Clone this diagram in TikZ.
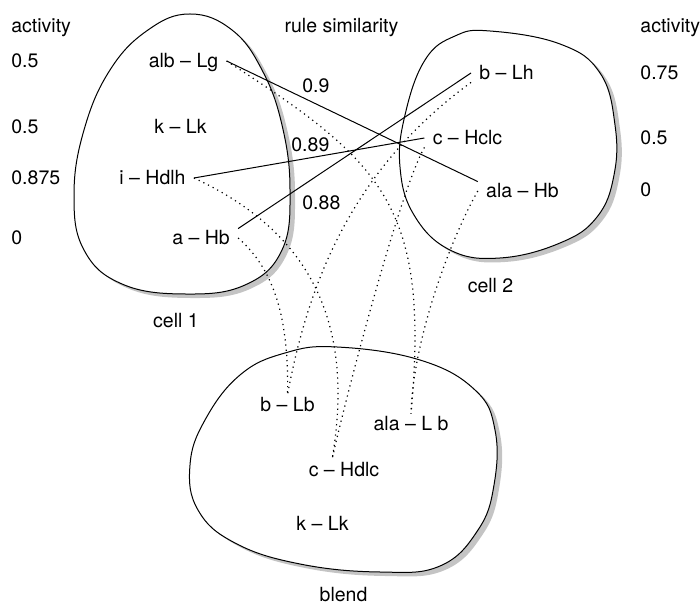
\documentclass[tikz,border=0pt]{standalone}
\usepackage{fontspec}
\setmainfont{TeX Gyre Heros}
\usepackage{xcolor}
\definecolor{diagramink}{HTML}{000000}
\definecolor{diagramshadow}{HTML}{C4C4C4}
\newcommand{\cellone}[1]{%
  \path[#1] plot[smooth cycle, tension=0.7] coordinates {(190,14) (232,30) (262,70) (282,125) (290,190) (282,250) (245,285) (185,294) (122,284) (84,250) (74,195) (84,130) (110,70) (148,30)};
}
\newcommand{\celltwo}[1]{%
  \path[#1] plot[smooth cycle, tension=0.7] coordinates {(490,31) (560,44) (600,73) (615,125) (614,175) (597,217) (560,243) (500,258) (450,250) (414,215) (400,167) (405,115) (425,60) (455,36)};
}
\newcommand{\blendcell}[1]{%
  \path[#1] plot[smooth cycle, tension=0.7] coordinates {(337,347) (420,360) (475,390) (495,430) (494,485) (478,530) (440,566) (380,572) (300,564) (235,543) (198,510) (190,465) (205,420) (240,375) (285,353)};
}

\begin{document}
\begin{tikzpicture}[
  x=0.5pt,
  y=-0.5pt,
  every node/.style={font=\fontsize{9.75}{12}\selectfont, text=diagramink},
  headtext/.style={inner sep=0pt, anchor=base west},
  ruleitem/.style={inner xsep=4pt, inner ysep=1pt, text height=7pt, text depth=0pt, anchor=base},
  simlink/.style={diagramink, line width=0.5pt},
  blendlink/.style={diagramink, line width=0.6pt, dash pattern=on 0.6pt off 2pt}
]
  \useasboundingbox (0,0) rectangle (700,608);

  % the three spaces, shadow first
  \cellone{fill=diagramshadow, shift={(5,4)}}
  \cellone{fill=white, draw=diagramink, line width=0.5pt}
  \celltwo{fill=diagramshadow, shift={(5,4)}}
  \celltwo{fill=white, draw=diagramink, line width=0.5pt}
  \blendcell{fill=diagramshadow, shift={(5,4)}}
  \blendcell{fill=white, draw=diagramink, line width=0.5pt}

  % headings
  \node[headtext] (actone) at (11,33) {activity};
  \node[headtext, anchor=base] (rulesim) at (341.5,33) {rule similarity};
  \node[headtext] (acttwo) at (640,33) {activity};

  % activity of cell 1
  \node[headtext] (actonea) at (11,68) {0.5};
  \node[headtext] (actoneb) at (11,134) {0.5};
  \node[headtext] (actonec) at (11,185) {0.875};
  \node[headtext] (actoned) at (11,245) {0};

  % activity of cell 2
  \node[headtext] (acttwoa) at (640,80) {0.75};
  \node[headtext] (acttwob) at (640,145) {0.5};
  \node[headtext] (acttwoc) at (640,197) {0};

  % cell 1
  \node[ruleitem] (albLg) at (183.5,68) {alb -- Lg};
  \node[ruleitem] (kLk) at (180.5,134) {k -- Lk};
  \node[ruleitem] (iHdlh) at (152.5,185) {i -- Hdlh};
  \node[ruleitem] (aHb) at (201,245) {a -- Hb};
  \node[headtext, anchor=base] (cellA) at (176,328) {cell 1};

  % cell 2
  \node[ruleitem] (bLh) at (506.5,80) {b -- Lh};
  \node[ruleitem] (cHclc) at (467.5,145) {c -- Hclc};
  \node[ruleitem] (alaHb) at (522.5,198) {ala -- Hb};
  \node[headtext, anchor=base] (cellB) at (490.5,293) {cell 2};

  % blend
  \node[ruleitem] (bLb) at (287.5,411) {b -- Lb};
  \node[ruleitem] (alaLb) at (411,430) {ala -- L b};
  \node[ruleitem] (cHdlc) at (344,476) {c -- Hdlc};
  \node[ruleitem] (kLkb) at (322.5,530) {k -- Lk};
  \node[headtext, anchor=base] (blendlbl) at (343.5,601) {blend};

  % rule similarity
  \node[headtext] (simA) at (302,93) {0.9};
  \node[headtext] (simB) at (291,152) {0.89};
  \node[headtext] (simC) at (302,210) {0.88};

  \draw[simlink] (albLg.east) -- (alaHb.north west);
  \draw[simlink] (iHdlh.east) -- (cHclc.west);
  \draw[simlink] (aHb.north east) -- (bLh.west);

  % projections into the blend
  \draw[blendlink] (albLg.east) .. controls (383,162) and (430,205) .. (alaLb.north);
  \draw[blendlink] (alaHb.west) .. controls (450,240) and (413,340) .. (alaLb.north);
  \draw[blendlink] (aHb.east) .. controls (275,270) and (289,320) .. (bLb.north);
  \draw[blendlink] (bLh.south west) .. controls (347,173) and (307,291) .. (bLb.north);
  \draw[blendlink] (iHdlh.east) .. controls (308,231) and (356,320) .. ([xshift=-6pt]cHdlc.north);
  \draw[blendlink] (cHclc.south west) .. controls (400,190) and (345,400) .. ([xshift=-6pt]cHdlc.north);
\end{tikzpicture}
\end{document}
